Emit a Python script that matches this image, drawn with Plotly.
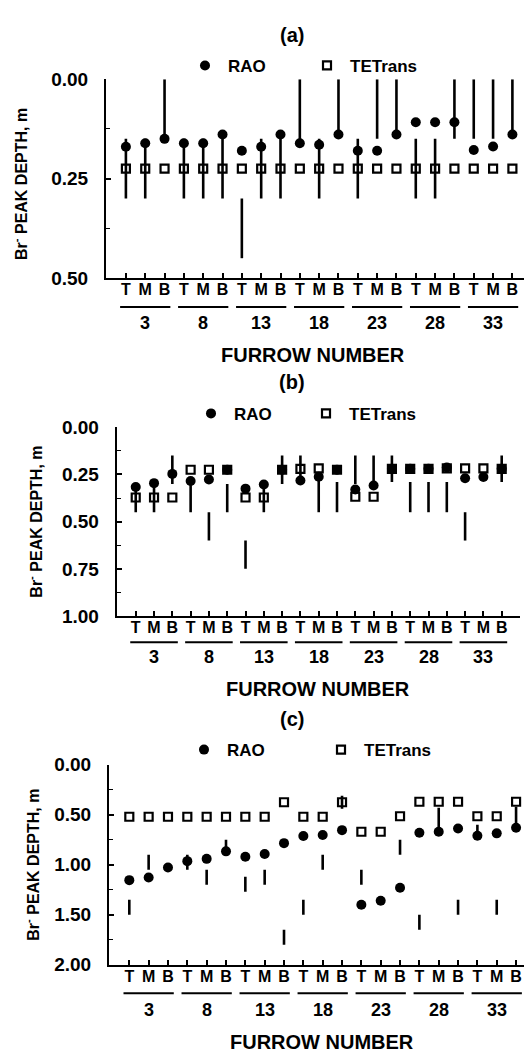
import plotly.graph_objects as go

# ---------------- data ----------------
furrows = [3, 8, 13, 18, 23, 28, 33]
sections = ["T", "M", "B"]

# panel (a)
rao_a = [0.170, 0.161, 0.150, 0.161, 0.161, 0.139, 0.180, 0.170, 0.139, 0.161, 0.165,
         0.139, 0.180, 0.180, 0.139, 0.108, 0.108, 0.108, 0.178, 0.169, 0.139]
tet_a = [0.225] * 21
obs_lo_a = [0.15, 0.15, 0.00, 0.15, 0.15, 0.15, 0.30, 0.15, 0.15, 0.00, 0.15,
            0.00, 0.15, 0.00, 0.00, 0.15, 0.15, 0.00, 0.00, 0.00, 0.00]
obs_hi_a = [0.30, 0.30, 0.15, 0.30, 0.30, 0.30, 0.45, 0.30, 0.30, 0.16, 0.30,
            0.14, 0.30, 0.15, 0.14, 0.30, 0.30, 0.15, 0.15, 0.15, 0.14]

# panel (b)
rao_b = [0.316, 0.296, 0.247, 0.285, 0.277, 0.225, 0.325, 0.303, 0.225, 0.282, 0.262,
         0.225, 0.330, 0.308, 0.220, 0.220, 0.220, 0.213, 0.270, 0.263, 0.220]
tet_b = [0.372, 0.372, 0.372, 0.225, 0.225, 0.225, 0.372, 0.372, 0.225, 0.220, 0.218,
         0.225, 0.368, 0.368, 0.220, 0.220, 0.220, 0.218, 0.218, 0.218, 0.220]
obs_lo_b = [0.30, 0.30, 0.15, 0.29, 0.45, 0.30, 0.60, 0.30, 0.15, 0.15, 0.27,
            0.29, 0.15, 0.15, 0.15, 0.29, 0.29, 0.29, 0.45, None, 0.15]
obs_hi_b = [0.45, 0.45, 0.30, 0.45, 0.60, 0.45, 0.75, 0.45, 0.30, 0.28, 0.45,
            0.45, 0.30, 0.31, 0.29, 0.45, 0.45, 0.45, 0.60, None, 0.29]

# panel (c)
rao_c = [1.154, 1.127, 1.027, 0.964, 0.941, 0.866, 0.920, 0.892, 0.784, 0.712, 0.703,
         0.654, 1.400, 1.360, 1.230, 0.680, 0.670, 0.637, 0.710, 0.686, 0.630]
tet_c = [0.52, 0.52, 0.52, 0.52, 0.52, 0.52, 0.52, 0.52, 0.375, 0.52, 0.52,
         0.375, 0.67, 0.67, 0.515, 0.37, 0.37, 0.37, 0.515, 0.515, 0.37]
obs_lo_c = [1.35, 0.90, None, 0.90, 1.05, 0.75, 1.12, 1.05, 1.65, 1.35, 0.90,
            0.31, 1.05, None, 0.75, 1.50, 0.43, 1.35, 0.60, 1.35, 0.42]
obs_hi_c = [1.50, 1.05, None, 1.05, 1.20, 0.87, 1.27, 1.20, 1.80, 1.50, 1.05,
            0.44, 1.20, None, 0.90, 1.65, 0.65, 1.50, 0.72, 1.50, 0.62]

# ---------------- layout helpers ----------------
W, H = 524, 1061
FONT = "Liberation Sans, Arial, sans-serif"


def fx(px):
    return px / W


def fy(py):
    return 1 - py / H


positions = list(range(1, len(furrows) * len(sections) + 1))
tick_text = [s for _ in furrows for s in sections]
group_centers = [positions[i * 3 + 1] for i in range(len(furrows))]

panels = [
    dict(key="", rao=rao_a, tet=tet_a, lo=obs_lo_a, hi=obs_hi_a, label="(a)",
         xdom=(106, 524), xr=(-0.03, 21.6), ydom=(70.6, 273.5), yr=(0.5, 0),
         dtick=0.25, minor=0.125, fmt=".2f",
         title_y=25, leg_y=57, leg_x=182, entry=71,
         under_y=303, num_y=319, fn_y=351.5, fn_x=313, ytitle_x=20, ytitle_y=177.5),
    dict(key="2", rao=rao_b, tet=tet_b, lo=obs_lo_b, hi=obs_hi_b, label="(b)",
         xdom=(116.7, 520), xr=(-0.04, 22.0), ydom=(425.7, 618.3), yr=(1.0, 0),
         dtick=0.25, minor=0.125, fmt=".2f",
         title_y=380, leg_y=412, leg_x=188, entry=64,
         under_y=645, num_y=660, fn_y=693, fn_x=318, ytitle_x=35, ytitle_y=522),
    dict(key="3", rao=rao_c, tet=tet_c, lo=obs_lo_c, hi=obs_hi_c, label="(c)",
         xdom=(109, 524), xr=(-0.05, 21.41), ydom=(770, 974), yr=(2.0, 0),
         dtick=0.5, minor=0.25, fmt=".2f",
         title_y=723, leg_y=755, leg_x=181, entry=86,
         under_y=1003, num_y=1020, fn_y=1053, fn_x=322, ytitle_x=32, ytitle_y=872),
]

fig = go.Figure()
layout = dict(
    width=W, height=H, autosize=False,
    margin=dict(l=0, r=0, t=0, b=0),
    paper_bgcolor="white", plot_bgcolor="white",
    font=dict(family=FONT, color="black", size=16, weight="bold"),
)
annotations = []
shapes = []

for p in panels:
    k = p["key"]
    xa, ya = "x" + k, "y" + k
    leg = "legend" + k

    # observed depth ranges
    lx, ly = [], []
    for pos, lo, hi in zip(positions, p["lo"], p["hi"]):
        if lo is None or hi is None:
            continue
        lx += [pos, pos, None]
        ly += [lo, hi, None]
    fig.add_trace(go.Scatter(x=lx, y=ly, mode="lines", xaxis=xa, yaxis=ya,
                             line=dict(color="black", width=2.6),
                             showlegend=False, hoverinfo="skip"))
    fig.add_trace(go.Scatter(x=positions, y=p["tet"], mode="markers", name="TETrans",
                             xaxis=xa, yaxis=ya, legend=leg, legendrank=2,
                             marker=dict(symbol="square-open", size=8, color="black",
                                         line=dict(width=2.2, color="black"))))
    fig.add_trace(go.Scatter(x=positions, y=p["rao"], mode="markers", name="RAO",
                             xaxis=xa, yaxis=ya, legend=leg, legendrank=1,
                             marker=dict(symbol="circle", size=10, color="black")))

    xname = "xaxis" + k
    yname = "yaxis" + k
    layout[xname] = dict(
        domain=[fx(p["xdom"][0]), fx(p["xdom"][1])], range=list(p["xr"]),
        anchor=ya, showline=True, linecolor="black", linewidth=2,
        showgrid=False, zeroline=False,
        tickmode="array", tickvals=positions, ticktext=tick_text,
        ticks="inside", ticklen=5, tickwidth=1.5, tickcolor="black",
        tickfont=dict(family=FONT, size=16, color="black", weight="bold"),
        ticklabelstandoff=-4,
    )
    layout[yname] = dict(
        domain=[fy(p["ydom"][1]), fy(p["ydom"][0])], range=list(p["yr"]),
        anchor=xa, showline=True, linecolor="black", linewidth=2,
        showgrid=False, zeroline=False,
        dtick=p["dtick"], tick0=0, tickformat=p["fmt"],
        ticks="inside", ticklen=5, tickwidth=1.5, tickcolor="black",
        minor=dict(dtick=p["minor"], tick0=0, ticks="inside", ticklen=4,
                   tickwidth=1.2, tickcolor="black", showgrid=False),
        tickfont=dict(family=FONT, size=19, color="black", weight="bold"),
        ticklabelstandoff=12,
    )
    layout[leg] = dict(
        orientation="h", x=fx(p["leg_x"]), xanchor="left",
        y=fy(p["leg_y"]), yanchor="middle",
        entrywidth=p["entry"], entrywidthmode="pixels", itemwidth=36,
        bgcolor="rgba(0,0,0,0)", borderwidth=0,
        font=dict(family=FONT, size=17, color="black", weight="bold"),
        traceorder="normal",
    )

    # panel label
    annotations.append(dict(text=p["label"], xref="paper", yref="paper",
                            x=fx(292), y=fy(p["title_y"]), showarrow=False,
                            xanchor="center", yanchor="middle",
                            font=dict(family=FONT, size=20, weight="bold")))
    # furrow number row + underlines
    for f, c in zip(furrows, group_centers):
        annotations.append(dict(text=str(f), xref=xa, yref="paper",
                                x=c, y=fy(p["num_y"]), showarrow=False,
                                xanchor="center", yanchor="middle",
                                font=dict(family=FONT, size=18, weight="bold")))
        shapes.append(dict(type="line", xref=xa, yref="paper",
                           x0=c - 1.3, x1=c + 1.3,
                           y0=fy(p["under_y"]), y1=fy(p["under_y"]),
                           line=dict(color="black", width=2)))
    annotations.append(dict(text="FURROW NUMBER", xref="paper", yref="paper",
                            x=fx(p["fn_x"]), y=fy(p["fn_y"]), showarrow=False,
                            xanchor="center", yanchor="middle",
                            font=dict(family=FONT, size=20, weight="bold")))
    annotations.append(dict(text="Br<sup>-</sup> PEAK DEPTH, m", xref="paper",
                            yref="paper", x=fx(p["ytitle_x"]), y=fy(p["ytitle_y"]),
                            textangle=-90, showarrow=False,
                            xanchor="center", yanchor="middle",
                            font=dict(family=FONT, size=16, weight="bold")))

layout["annotations"] = annotations
layout["shapes"] = shapes
fig.update_layout(**layout)

fig.write_html("out.html")
